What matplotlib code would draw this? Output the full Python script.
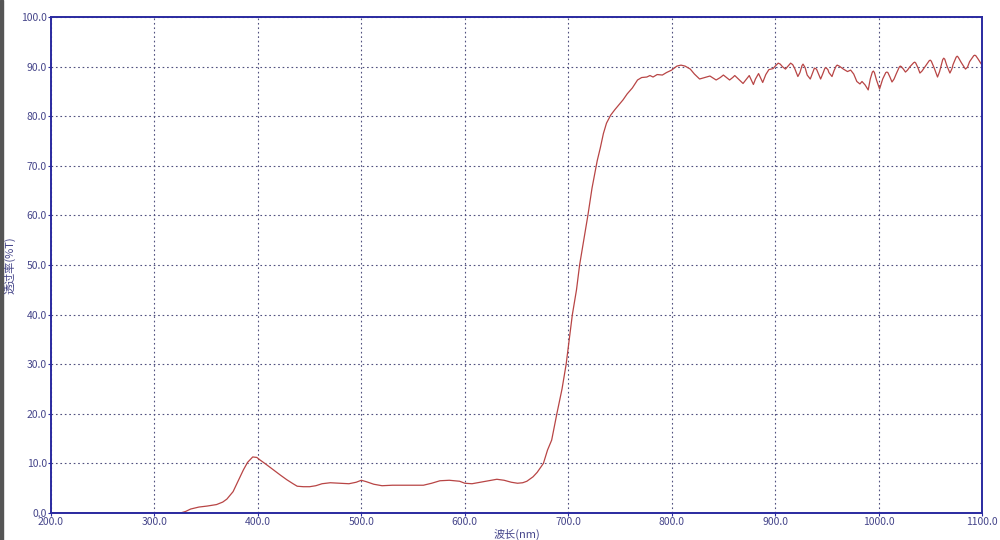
import numpy as np
import matplotlib
matplotlib.use('Agg')
import matplotlib.pyplot as plt
from matplotlib.patches import Rectangle

plt.rcParams['font.family'] = ['Noto Sans CJK SC', 'DejaVu Sans']

# wavelength (nm) / transmittance (%T)
wavelength = [200, 250, 300, 325, 330, 335, 343, 351, 360, 366, 370, 376, 381, 386, 390, 395,
              399, 402, 408, 415, 422, 428, 434, 438, 444, 450, 456, 462, 470, 480, 488, 495,
              500, 505, 512, 520, 530, 540, 550, 560, 568, 576, 585, 595, 600, 607, 615, 623,
              631, 638, 645, 651, 656, 660, 666, 670, 673, 676, 680, 684, 689, 694, 698, 701,
              704, 708, 711, 715, 719, 723, 728, 731, 734, 737, 741, 745, 749, 753, 757, 762,
              767, 771, 776, 779, 782, 786, 791, 795, 800, 805, 809, 813, 818, 822, 827, 832,
              837, 840, 843, 847, 850, 853, 856, 859, 861, 865, 869, 872, 875, 877, 879, 881,
              884, 886, 888, 891, 894, 898, 901, 903, 905, 907, 910, 913, 915, 917, 919, 922,
              924, 926, 927, 929, 931, 934, 936, 938, 940, 941, 944, 946, 948, 949, 951, 952,
              955, 957, 959, 960, 962, 966, 970, 973, 976, 979, 982, 984, 987, 990, 992, 994,
              995, 996, 998, 1001, 1004, 1007, 1008, 1009, 1011, 1013, 1015, 1017, 1020, 1021, 1022, 1024,
              1026, 1028, 1030, 1034, 1035, 1036, 1038, 1040, 1042, 1045, 1049, 1050, 1051, 1054, 1057, 1059,
              1060, 1062, 1063, 1064, 1066, 1069, 1071, 1072, 1075, 1076, 1077, 1080, 1084, 1086, 1088, 1092,
              1093, 1094, 1096, 1100]
transmittance = [0, 0, 0, 0, 0.3, 0.8, 1.2, 1.4, 1.7, 2.2, 2.8, 4.3, 6.5, 8.7, 10.2, 11.3,
                 11.2, 10.7, 9.8, 8.7, 7.6, 6.7, 5.9, 5.4, 5.3, 5.3, 5.5, 5.9, 6.1, 6.0, 5.9, 6.2,
                 6.6, 6.3, 5.8, 5.5, 5.6, 5.6, 5.6, 5.6, 6.0, 6.5, 6.6, 6.4, 6.0, 5.9, 6.2, 6.5,
                 6.8, 6.6, 6.2, 6.0, 6.1, 6.4, 7.3, 8.2, 9.1, 10.0, 12.7, 14.7, 20.0, 25.0, 30.0, 35.0,
                 40.0, 45.0, 50.0, 55.0, 60.0, 65.5, 71.0, 73.6, 76.5, 78.6, 80.2, 81.3, 82.3, 83.3, 84.5, 85.7,
                 87.3, 87.8, 87.9, 88.2, 87.9, 88.4, 88.3, 88.8, 89.3, 90.1, 90.3, 90.1, 89.5, 88.5, 87.5, 87.8,
                 88.1, 87.7, 87.3, 87.8, 88.3, 87.8, 87.3, 87.8, 88.2, 87.4, 86.6, 87.4, 88.2, 87.3, 86.4, 87.5,
                 88.6, 87.7, 86.8, 88.4, 89.4, 89.6, 90.3, 90.7, 90.5, 90.0, 89.5, 90.2, 90.7, 90.4, 89.6, 88.0,
                 88.8, 90.2, 90.5, 89.8, 88.3, 87.5, 88.6, 89.7, 89.5, 89.0, 87.5, 88.5, 89.6, 89.8, 89.4, 88.8,
                 88.0, 89.2, 90.1, 90.3, 90.1, 89.5, 89.0, 89.3, 88.5, 87.0, 86.5, 87.0, 86.3, 85.3, 87.5, 88.9,
                 89.1, 88.8, 87.3, 85.5, 87.5, 88.8, 88.9, 88.8, 87.9, 86.9, 87.5, 88.5, 89.9, 90.1, 90.0, 89.5,
                 88.9, 89.3, 89.9, 90.8, 90.9, 90.7, 89.8, 88.7, 89.1, 90.0, 91.2, 91.3, 91.1, 89.6, 87.9, 89.0,
                 89.8, 91.4, 91.7, 91.5, 90.2, 88.7, 89.6, 90.4, 91.9, 92.1, 91.9, 90.8, 89.5, 89.9, 91.0, 92.2,
                 92.3, 92.2, 91.6, 90.3]

xticks = [200, 300, 400, 500, 600, 700, 800, 900, 1000, 1100]
yticks = [0, 10, 20, 30, 40, 50, 60, 70, 80, 90, 100]

axis_color = '#2a2aa0'
text_color = '#45458a'

fig = plt.figure(figsize=(10, 5.4), dpi=100)
ax = fig.add_axes([0.051, 0.05, 0.931, 0.9185])

ax.plot(wavelength, transmittance, color='#b84545', lw=0.9)

ax.set_xlim(200, 1100)
ax.set_ylim(0, 100)
ax.set_xticks(xticks)
ax.set_yticks(yticks)
ax.set_xticklabels(['{:.1f}'.format(v) for v in xticks])
ax.set_yticklabels(['{:.1f}'.format(v) for v in yticks])
ax.tick_params(length=2, width=0.8, color=axis_color, labelcolor=text_color, labelsize=7.5, pad=1)
ax.grid(True, linestyle=(0, (1.5, 2.5)), color='#50507f', lw=0.8)

for s in ax.spines.values():
    s.set_color(axis_color)
    s.set_linewidth(1.4)

ax.set_xlabel('波长(nm)', color=text_color, fontsize=8, labelpad=1)
ax.set_ylabel('透过率(%T)', color=text_color, fontsize=8, labelpad=4)

# dark edge of the original window
fig.add_artist(Rectangle((0, 0), 0.003, 1, transform=fig.transFigure, color='#555555'))

fig.savefig('out.png', dpi=100)
